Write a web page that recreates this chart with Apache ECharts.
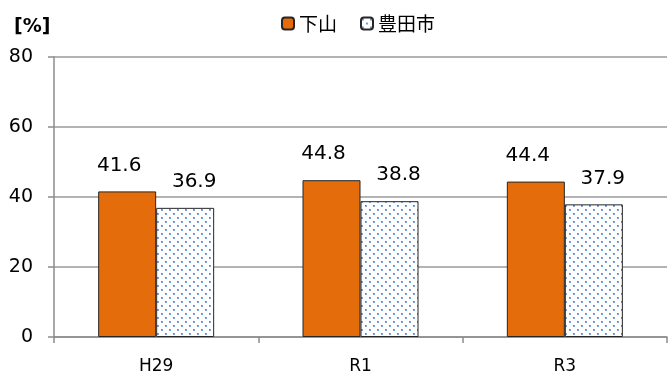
<!DOCTYPE html>
<html>
<head>
<meta charset="utf-8">
<style>
  html, body { margin: 0; padding: 0; background: #fff; }
  #chart { width: 668px; height: 376px; }
</style>
<script src="https://cdn.jsdelivr.net/npm/echarts@6/dist/echarts.min.js"></script>
</head>
<body>
<div id="chart"></div>
<script>
// Survey years and percentages
const categories = ['H29', 'R1', 'R3'];
const shimoyama = [41.6, 44.8, 44.4];
const toyotaCity = [36.9, 38.8, 37.9];
const seriesNames = ['下山', '豊田市'];
const yTicks = { min: 0, max: 80, interval: 20 };

// Dotted fill for the city-wide bars
function dotPattern() {
  const c = document.createElement('canvas');
  c.width = 8; c.height = 8;
  const g = c.getContext('2d');
  g.fillStyle = '#ffffff';
  g.fillRect(0, 0, 8, 8);
  g.fillStyle = '#7fa4de';
  g.fillRect(1, 1, 2, 2);
  g.fillRect(5, 5, 2, 2);
  g.fillStyle = '#4f7ecb';
  g.fillRect(1, 1, 1, 1);
  g.fillRect(5, 5, 1, 1);
  return c;
}

const numFont = '"DejaVu Sans", Verdana, sans-serif';
const cjkFont = '"Noto Sans CJK JP", "DejaVu Sans", sans-serif';

const chart = echarts.init(document.getElementById('chart'), null, { renderer: 'canvas' });
chart.setOption({
  animation: false,
  backgroundColor: '#ffffff',
  grid: { left: 54, right: 1, top: 57, bottom: 39, containLabel: false },
  legend: {
    left: 276, top: 9,
    itemWidth: 12, itemHeight: 12, itemGap: 23,
    textStyle: { fontFamily: cjkFont, fontSize: 19, color: '#000' },
    data: seriesNames
  },
  graphic: [{
    type: 'text', left: 14, top: 18,
    style: { text: '[%]', font: 'bold 19px ' + numFont, fill: '#000' }
  }],
  xAxis: {
    type: 'category',
    data: categories,
    axisLine: { lineStyle: { color: '#8c8c8c', width: 1.5 } },
    axisTick: { show: true, length: 6, lineStyle: { color: '#8c8c8c', width: 1.5 } },
    axisLabel: { fontFamily: numFont, fontSize: 17, color: '#000', margin: 21 },
    splitLine: { show: false }
  },
  yAxis: {
    type: 'value',
    min: yTicks.min, max: yTicks.max, interval: yTicks.interval,
    axisLine: { show: true, lineStyle: { color: '#8c8c8c', width: 1.5 } },
    axisTick: { show: true, length: 6, lineStyle: { color: '#8c8c8c', width: 1.5 } },
    axisLabel: { fontFamily: numFont, fontSize: 19, color: '#000', margin: 21 },
    splitLine: { lineStyle: { color: '#9a9a9a', width: 1.5 } }
  },
  series: [
    {
      name: seriesNames[0], type: 'bar', data: shimoyama,
      barWidth: 58, barGap: '0%',
      itemStyle: { color: '#E46C0A', borderColor: '#262626', borderWidth: 1 },
      label: {
        show: true, position: 'top', distance: 16, offset: [-8, 0],
        fontFamily: numFont, fontSize: 20, color: '#000',
        formatter: p => p.value.toFixed(1)
      }
    },
    {
      name: seriesNames[1], type: 'bar', data: toyotaCity,
      barWidth: 58, barGap: '0%',
      itemStyle: {
        color: { image: dotPattern(), repeat: 'repeat' },
        borderColor: '#262626', borderWidth: 1
      },
      label: {
        show: true, position: 'top', distance: 16, offset: [9, 0],
        fontFamily: numFont, fontSize: 20, color: '#000',
        formatter: p => p.value.toFixed(1)
      }
    }
  ]
});
</script>
</body>
</html>
